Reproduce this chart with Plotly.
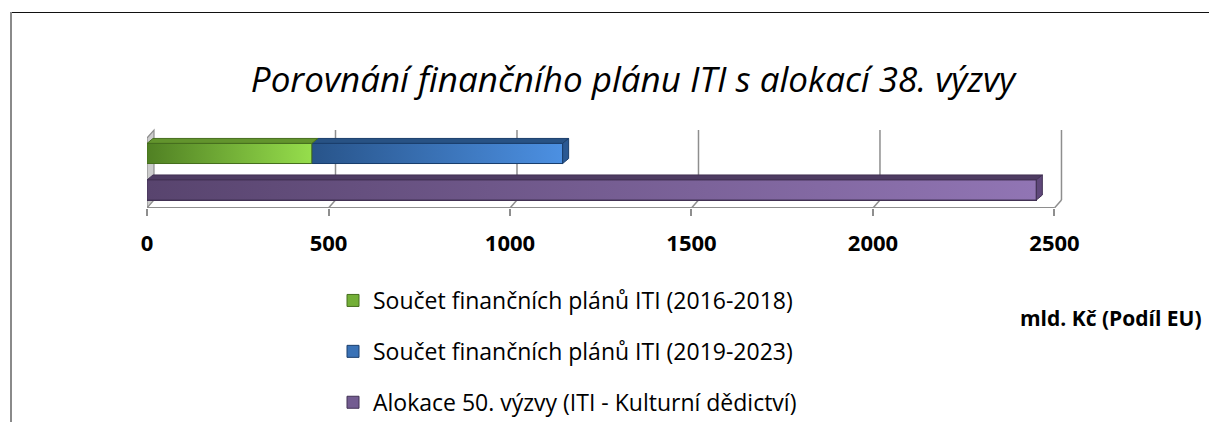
import plotly.graph_objects as go

# Values (mld. Kč, EU share)
series_names = [
    "Součet finančních plánů ITI (2016-2018)",
    "Součet finančních plánů ITI (2019-2023)",
    "Alokace 50. výzvy (ITI - Kulturní dědictví)",
]
plan_2016_2018 = [454]
plan_2019_2023 = [691]
allocation_50 = [2450]
tick_values = [0, 500, 1000, 1500, 2000, 2500]
tick_labels = ["0", "500", "1000", "1500", "2000", "2500"]

title_text = "Porovnání finančního plánu ITI s alokací 38. výzvy"
unit_text = "mld. Kč (Podíl EU)"

# Styling
W, H = 1209, 422
L, R, T, B = 147, 140, 125, 214
X_RANGE = [0, 2540]
Y_RANGE = [-0.493, 1.78]
BAR_W = 0.55
px_x = (W - L - R) / (X_RANGE[1] - X_RANGE[0])
px_y = (H - T - B) / (Y_RANGE[1] - Y_RANGE[0])
# 3D depth offsets (in data units)
WALL_DX, WALL_DY = 7 / px_x, 8 / px_y
BAR_DX, BAR_DY = 6 / px_x, 5 / px_y

grid_col = "#8e8e8e"
font_main = "Open Sans"

colors = {
    "green": dict(l="rgb(80,128,35)", r="rgb(150,222,76)", top="rgb(98,148,45)",
                  side="rgb(80,125,35)", edge="rgb(70,110,30)", mid="rgb(115,175,55)"),
    "blue": dict(l="rgb(40,84,138)", r="rgb(76,144,226)", top="rgb(40,82,132)",
                 side="rgb(42,88,146)", edge="rgb(26,62,108)", mid="rgb(58,114,182)"),
    "purple": dict(l="rgb(88,68,110)", r="rgb(145,117,180)", top="rgb(78,60,98)",
                   side="rgb(95,72,122)", edge="rgb(66,50,84)", mid="rgb(115,92,145)"),
}

fig = go.Figure()

# Base bar traces (carry the data and the legend)
rows_y = {"top": 1, "bottom": 0}
fig.add_trace(go.Bar(y=[rows_y["top"]], x=plan_2016_2018, orientation="h", width=BAR_W,
                     name=series_names[0], legendgroup="a",
                     marker=dict(color=colors["green"]["mid"], line=dict(color=colors["green"]["edge"], width=1))))
fig.add_trace(go.Bar(y=[rows_y["top"]], x=plan_2019_2023, orientation="h", width=BAR_W,
                     name=series_names[1], legendgroup="b",
                     marker=dict(color=colors["blue"]["mid"], line=dict(color=colors["blue"]["edge"], width=1))))
fig.add_trace(go.Bar(y=[rows_y["bottom"]], x=allocation_50, orientation="h", width=BAR_W,
                     name=series_names[2], legendgroup="c",
                     marker=dict(color=colors["purple"]["mid"], line=dict(color=colors["purple"]["edge"], width=1))))


def poly(xs, ys, fill, edge, gradient=None):
    kw = dict(x=xs + [xs[0]], y=ys + [ys[0]], mode="lines", fill="toself",
              line=dict(color=edge, width=1), hoverinfo="skip", showlegend=False)
    if gradient:
        kw["fillgradient"] = dict(type="horizontal", colorscale=[[0, gradient[0]], [1, gradient[1]]])
    else:
        kw["fillcolor"] = fill
    fig.add_trace(go.Scatter(**kw))


def bar_3d(x0, x1, yc, c, with_side):
    yb, yt = yc - BAR_W / 2, yc + BAR_W / 2
    # top face
    poly([x0, x1, x1 + BAR_DX, x0 + BAR_DX], [yt, yt, yt + BAR_DY, yt + BAR_DY], c["top"], c["edge"])
    # front face with gradient
    poly([x0, x1, x1, x0], [yb, yb, yt, yt], None, c["edge"], gradient=(c["l"], c["r"]))
    if with_side:
        poly([x1, x1 + BAR_DX, x1 + BAR_DX, x1], [yb, yb + BAR_DY, yt + BAR_DY, yt], c["side"], c["edge"])


g_end = plan_2016_2018[0]
b_end = g_end + plan_2019_2023[0]
bar_3d(0, allocation_50[0], rows_y["bottom"], colors["purple"], True)
bar_3d(g_end, b_end, rows_y["top"], colors["blue"], True)
bar_3d(0, g_end, rows_y["top"], colors["green"], False)

# Floor, back wall gridlines and side wall
y_front = Y_RANGE[0]
y_back = y_front + WALL_DY
y_wall_top = (190 - 130) / px_y
shapes = []
shapes.append(dict(type="path", xref="x", yref="y", layer="below",
                   path=f"M0,{y_front} L{WALL_DX},{y_back} L{WALL_DX},{y_wall_top} L0,{y_wall_top - WALL_DY} Z",
                   fillcolor="#cccccc", line=dict(color=grid_col, width=1.2)))
shapes.append(dict(type="line", xref="x", yref="y", layer="below",
                   x0=0, x1=tick_values[-1], y0=y_front, y1=y_front,
                   line=dict(color=grid_col, width=2)))
for v in tick_values[1:]:
    shapes.append(dict(type="line", xref="x", yref="y", layer="below",
                       x0=v, x1=v + WALL_DX, y0=y_front, y1=y_back,
                       line=dict(color=grid_col, width=1.5)))
    shapes.append(dict(type="line", xref="x", yref="y", layer="below",
                       x0=v + WALL_DX, x1=v + WALL_DX, y0=y_back, y1=y_wall_top,
                       line=dict(color=grid_col, width=1.5)))

# Outer frame
pw, ph = W - L - R, H - T - B
def px2paper_x(p): return (p - L) / pw
def px2paper_y(p): return (H - B - p) / ph
shapes.append(dict(type="line", xref="paper", yref="paper",
                   x0=px2paper_x(10), x1=px2paper_x(W + 5), y0=px2paper_y(12.5), y1=px2paper_y(12.5),
                   line=dict(color="#111111", width=1.2)))
shapes.append(dict(type="line", xref="paper", yref="paper",
                   x0=px2paper_x(11), x1=px2paper_x(11), y0=px2paper_y(12), y1=px2paper_y(H + 5),
                   line=dict(color="#8a8a8a", width=2)))

fig.update_layout(
    width=W, height=H,
    margin=dict(l=L, r=R, t=T, b=B, pad=0, autoexpand=False),
    paper_bgcolor="white", plot_bgcolor="rgba(0,0,0,0)",
    barmode="stack",
    shapes=shapes,
    font=dict(family=font_main, color="black"),
    title=dict(text=f"<i>{title_text}</i>", xref="container", yref="container",
               x=633 / W, y=1 - 80 / H, xanchor="center", yanchor="middle",
               font=dict(family=font_main, size=35, color="black")),
    xaxis=dict(range=X_RANGE, tickvals=tick_values, ticktext=tick_labels,
               showgrid=False, zeroline=False, showline=False,
               ticks="outside", ticklen=7, tickwidth=1.5, tickcolor=grid_col,
               ticklabelstandoff=9,
               tickfont=dict(family=font_main, size=22, color="black", weight="bold")),
    yaxis=dict(range=Y_RANGE, visible=False),
    legend=dict(xref="container", yref="container", x=333 / W, y=1 - 279 / H,
                xanchor="left", yanchor="top", orientation="v",
                traceorder="grouped", tracegroupgap=18,
                font=dict(family=font_main, size=23, color="black"),
                bgcolor="rgba(0,0,0,0)"),
    annotations=[dict(text=f"<b>{unit_text}</b>", xref="paper", yref="paper",
                      x=px2paper_x(1204), y=px2paper_y(318), xanchor="right", yanchor="middle",
                      showarrow=False, font=dict(family=font_main, size=21, color="black"))],
)

fig.write_html("out.html")
